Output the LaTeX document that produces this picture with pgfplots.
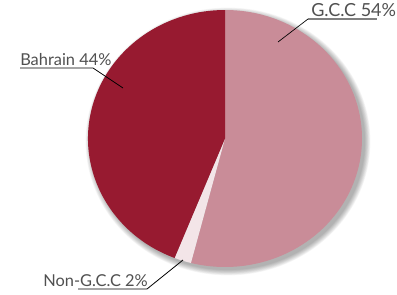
\documentclass[border=0pt]{standalone}
\usepackage{pgfplots}
\usepackage{pgfplotstable}
\pgfplotsset{compat=1.18}
\usepackage{fontspec}
\setmainfont{Lato}
\definecolor{gcc}{HTML}{C98C98}
\definecolor{bah}{HTML}{971A30}
\definecolor{ngcc}{HTML}{F3E5E8}
\definecolor{txt}{HTML}{505050}
\pgfplotstableread{
label value
GCC 54
NonGCC 2
Bahrain 44
}\piedata
\begin{document}
\begin{tikzpicture}
\pgfplotstablegetelem{0}{value}\of\piedata \let\va\pgfplotsretval
\pgfplotstablegetelem{1}{value}\of\piedata \let\vb\pgfplotsretval
\pgfplotstablegetelem{2}{value}\of\piedata \let\vc\pgfplotsretval
\pgfmathsetmacro{\aA}{90}
\pgfmathsetmacro{\aB}{\aA-3.6*\va}
\pgfmathsetmacro{\aC}{\aB-3.6*\vb}
\pgfmathsetmacro{\aD}{\aC-3.6*\vc}
\begin{axis}[
  x=0.75pt, y=0.75pt, scale only axis, hide axis, clip=false,
  xmin=0, xmax=397, ymin=0, ymax=294,
]
\path (axis cs:0,0) rectangle (axis cs:397,294);
% soft shadow
\pgfplotsinvokeforeach{0,...,9}{
  \fill[black, opacity=0.035] (axis cs:228,152.5) ellipse [x radius={(137+#1*0.6)*0.75pt}, y radius={(128.5+#1*0.6)*0.75pt}];
}
\fill[gcc] (axis cs:225,155.5) -- ++({137*0.75pt*cos(\aA)},{128.5*0.75pt*sin(\aA)}) arc[start angle=\aA, end angle=\aB, x radius=102.75pt, y radius=96.375pt] -- cycle;
\fill[ngcc] (axis cs:225,155.5) -- ++({137*0.75pt*cos(\aB)},{128.5*0.75pt*sin(\aB)}) arc[start angle=\aB, end angle=\aC, x radius=102.75pt, y radius=96.375pt] -- cycle;
\fill[bah] (axis cs:225,155.5) -- ++({137*0.75pt*cos(\aC)},{128.5*0.75pt*sin(\aC)}) arc[start angle=\aC, end angle=\aD, x radius=102.75pt, y radius=96.375pt] -- cycle;
% labels
\node[anchor=base west, inner sep=0pt, text=txt, font=\fontsize{13.5}{15}\selectfont] at (axis cs:311,277.5) {G.C.C 54\%};
\draw[gray, line width=0.8pt] (axis cs:308,275) -- (axis cs:377,275);
\draw[black, line width=0.5pt] (axis cs:308,275) -- (axis cs:278,252);
\node[anchor=base west, inner sep=0pt, text=txt, font=\fontsize{12.3}{15}\selectfont] at (axis cs:20,228.5) {Bahrain 44\%};
\draw[black, line width=0.6pt] (axis cs:20,226) -- (axis cs:93,226) -- (axis cs:123,206);
\node[anchor=base west, inner sep=0pt, text=txt, font=\fontsize{12.3}{15}\selectfont] at (axis cs:43,7.5) {Non-G.C.C 2\%};
\draw[black, line width=0.6pt] (axis cs:78,5) -- (axis cs:147,5) -- (axis cs:183,34);
\end{axis}
\end{tikzpicture}
\end{document}
